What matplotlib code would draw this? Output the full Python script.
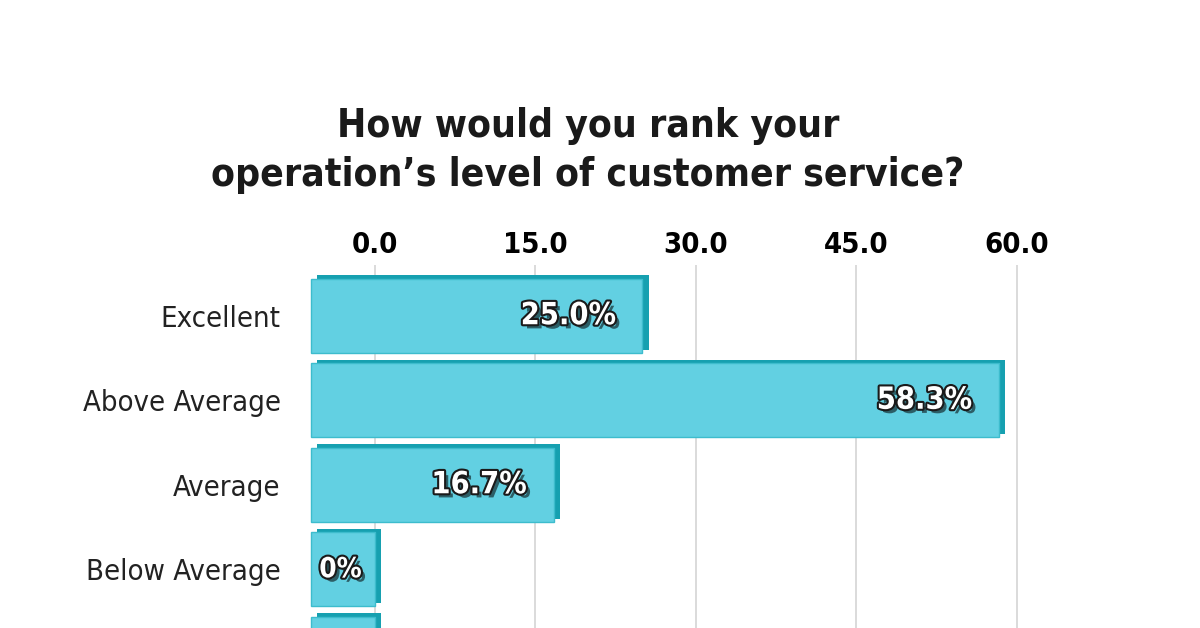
import matplotlib
matplotlib.use("Agg")
import matplotlib.pyplot as plt
import matplotlib.patheffects as pe

# survey answers (percent of respondents)
categories = ["Excellent", "Above Average", "Average", "Below Average", "Poor"]
values = [25.0, 58.3, 16.7, 0.0, 0.0]
value_labels = ["25.0%", "58.3%", "16.7%", "0%", "0%"]
xticks = [0, 15, 30, 45, 60]
xtick_labels = ["0.0", "15.0", "30.0", "45.0", "60.0"]
title = "How would you rank your\noperation\u2019s level of customer service?"

narrow = dict(family="DejaVu Sans", stretch="condensed")
face = "#62d0e2"
depth = "#16a0b0"
base = -6  # bars start a little left of zero, like the 3D block in the original

fig = plt.figure(figsize=(12, 6.28), dpi=100)
# 82 px per category, Poor row falls off the bottom as in the original
ax = fig.add_axes([0.25, -0.142, 0.624, 0.72])

ypos = list(range(len(categories)))
widths = [v - base for v in values]
# darker block behind gives the bars a bit of depth
ax.barh([y - 0.04 for y in ypos], widths, left=base + 0.6, height=0.88,
        color=depth, linewidth=0, zorder=2)
ax.barh(ypos, widths, left=base, height=0.88,
        color=face, edgecolor="#3dbccd", linewidth=1, zorder=3)

outline = [pe.withSimplePatchShadow(offset=(3, -3), shadow_rgbFace="black", alpha=0.55),
           pe.withStroke(linewidth=3, foreground="#1a1a1a")]
for y, v, lab in zip(ypos, values, value_labels):
    if v > 5:
        ax.text(v - 2.5, y, lab, ha="right", va="center", color="white",
                fontsize=22, fontweight="bold", path_effects=outline,
                zorder=4, **narrow)
    else:
        ax.text(base + 0.8, y, lab, ha="left", va="center", color="white",
                fontsize=20, fontweight="bold", path_effects=outline,
                zorder=4, **narrow)

ax.set_xlim(-7, 63)
ax.set_ylim(4.75, -0.6)
ax.set_xticks(xticks)
ax.set_xticklabels(xtick_labels, fontsize=21, fontweight="bold", **narrow)
ax.xaxis.tick_top()
ax.tick_params(axis="x", length=0, pad=4)
ax.set_yticks(ypos)
ax.set_yticklabels(categories, fontsize=21, color="#222222", **narrow)
ax.tick_params(axis="y", length=0, pad=14)
ax.grid(axis="x", color="#d4d4d4", linewidth=1.2, zorder=0)
for s in ax.spines.values():
    s.set_visible(False)

fig.text(0.49, 0.76, title, ha="center", va="center", fontsize=28,
         fontweight="bold", color="#1a1a1a", linespacing=1.35, **narrow)

fig.savefig("out.png", dpi=100, facecolor="white")
